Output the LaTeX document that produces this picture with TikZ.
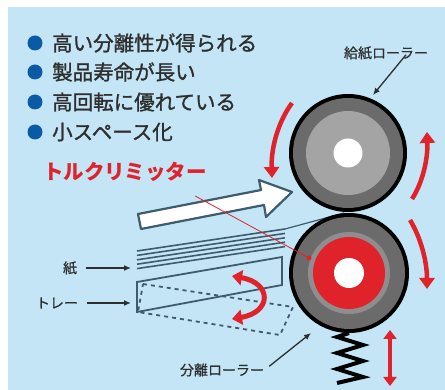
\documentclass[tikz,border=0pt]{standalone}
\usepackage{fontspec}
\setmainfont{Noto Sans CJK JP}
\newfontfamily\heavyjp{Noto Sans CJK JP}[FakeBold=1.2]
\newfontfamily\semijp{Noto Sans CJK JP}[FakeBold=0.6]
\usetikzlibrary{arrows.meta}
\definecolor{skyblue}{HTML}{C3E5F5}
\definecolor{dotblue}{HTML}{0B5AA6}
\definecolor{textgray}{HTML}{2E2E2E}
\definecolor{arrowred}{HTML}{E0222B}
\definecolor{slate}{HTML}{3F5C6C}
\definecolor{rimgray}{HTML}{6B6B6B}
\definecolor{hubgray}{HTML}{A4A4A4}
\definecolor{ringgray}{HTML}{8E8E8E}

\begin{document}
\begin{tikzpicture}[x=1pt,y=-1pt,
    item/.style={anchor=west,inner sep=0pt,text=textgray,font=\heavyjp\fontsize{20.5}{24}\selectfont},
    tag/.style={inner sep=0pt,text=textgray,font=\semijp\fontsize{14}{16}\selectfont},
    pointer/.style={-{Latex[length=7pt,width=6pt]},line width=1.3pt,draw=textgray},
    turn/.style={line width=4.5pt,draw=arrowred,-{Triangle[width=15pt,length=11pt]}},
    sheet/.style={draw=slate,line width=1.6pt}]

    % Background
    \useasboundingbox (0,0) rectangle (445,390);
    \fill[white] (0,0) rectangle (445,390);
    \fill[skyblue] (8,7) rectangle (445,390);

    % Feature list
    \foreach \y/\txt in {43/高い分離性が得られる,72/製品寿命が長い,102/高回転に優れている,132/小スペース化}{
        \fill[dotblue] (35,\y) circle (7.5);
        \node[item] at (52,\y) {\txt};
    }

    % Torque limiter title
    \node[inner sep=0pt,text=arrowred,font=\fontsize{20.5}{24}\selectfont\bfseries] (torque) at (125,172) {トルクリミッター};

    % Paper stack and feed direction
    \foreach \k in {0,...,4}
        \draw[sheet] (137,{251+4.4*\k}) -- (285,{229+4.4*\k});
    \coordinate (nip) at (344,213);
    \draw[sheet,line width=1.2pt] (285,229) -- (nip);
    \draw[draw=slate,line width=2.2pt,fill=white,line join=round]
        (138,214) -- (261,190) -- (259,180) -- (292,192) -- (266,217) -- (264,205) -- (141,229) -- cycle;

    % Tray, lowered position dashed
    \draw[draw=slate,line width=1.8pt,dashed,dash pattern=on 4pt off 4pt]
        (143,284) -- (293,307) -- (280,335) -- (138,312) -- cycle;
    \draw[sheet,line width=1.8pt] (137,282) -- (282,257) -- (282,285) -- (137,312) -- cycle;
    \draw[arrowred,line width=5pt,{Triangle[width=15pt,length=10pt]}-{Triangle[width=15pt,length=10pt]}]
        (232,276) .. controls (272,283) and (272,312) .. (232,319);

    % Feed roller
    \coordinate (feed) at (348,153);
    \fill[black] (feed) circle (59);
    \fill[rimgray] (feed) circle (55);
    \fill[hubgray] (feed) circle (42);
    \fill[white] (feed) circle (14.5);

    % Separation roller with torque limiter
    \coordinate (sep) at (349,273);
    \fill[black] (sep) circle (60);
    \fill[rimgray] (sep) circle (56);
    \fill[ringgray] (sep) circle (41);
    \fill[arrowred] (sep) circle (36);
    \fill[white] (sep) circle (15);

    % Spring
    \draw[line width=4pt,line join=miter] (349,333) -- (337,337) -- (363,345) -- (337,353) -- (363,361)
        -- (337,369) -- (363,377) -- (337,383);

    % Rotation arrows
    \draw[turn] (292,103) .. controls (278,122) and (271,148) .. (272,178);
    \draw[turn] (412,199) .. controls (423,182) and (428,158) .. (427,132);
    \draw[turn] (410,220) .. controls (421,238) and (427,262) .. (427,289);
    \draw[arrowred,line width=4pt,{Triangle[width=13pt,length=9pt]}-{Triangle[width=13pt,length=9pt]}]
        (390,330) -- (390,386);

    % Leader to the limiter
    \coordinate (clutch) at (309,258);
    \draw[arrowred,line width=0.8pt] ([xshift=-12pt,yshift=-14pt]torque.south east) -- (clutch);
    \fill[arrowred] (clutch) circle (2.5);

    % Labels
    \node[tag] (feedlbl) at (386,53) {給紙ローラー};
    \coordinate (feedtop) at (373,95);
    \draw[pointer] ([xshift=20pt,yshift=5pt]feedlbl.south) -- (feedtop);

    \node[tag] (seplbl) at (222,370) {分離ローラー};
    \coordinate (sepedge) at (311,333);
    \draw[pointer] ([xshift=5pt,yshift=-3pt]seplbl.north east) -- (sepedge);

    \node[tag] (paperlbl) at (70,268) {紙};
    \coordinate (paperend) at (131,268);
    \draw[pointer,shorten <=9pt] (paperlbl.east) -- (paperend);

    \node[tag] (traylbl) at (57,303) {トレー};
    \coordinate (trayend) at (131,303);
    \draw[pointer,shorten <=9pt] (traylbl.east) -- (trayend);
\end{tikzpicture}
\end{document}
